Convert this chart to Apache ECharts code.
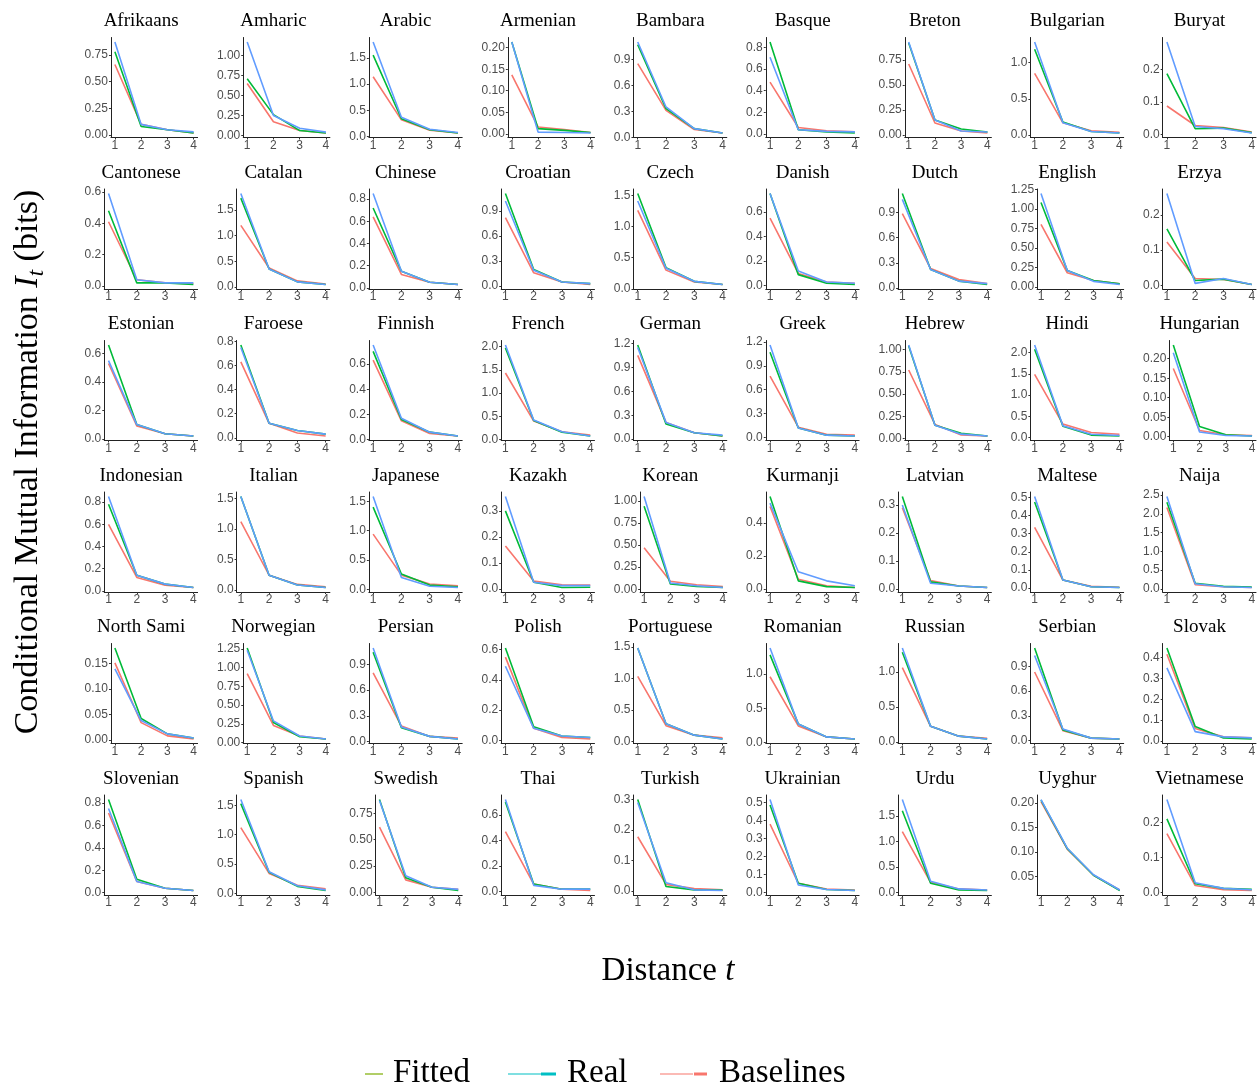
<!DOCTYPE html>
<html><head><meta charset="utf-8">
<script src="https://cdn.jsdelivr.net/npm/echarts@6/dist/echarts.min.js"></script>
<style>html,body{margin:0;padding:0;background:#fff}#c{width:1257px;height:1086px}</style>
</head><body><div id="c"></div>
<script>
const languages = ["Afrikaans","Amharic","Arabic","Armenian","Bambara","Basque","Breton","Bulgarian","Buryat",
"Cantonese","Catalan","Chinese","Croatian","Czech","Danish","Dutch","English","Erzya",
"Estonian","Faroese","Finnish","French","German","Greek","Hebrew","Hindi","Hungarian",
"Indonesian","Italian","Japanese","Kazakh","Korean","Kurmanji","Latvian","Maltese","Naija",
"North Sami","Norwegian","Persian","Polish","Portuguese","Romanian","Russian","Serbian","Slovak",
"Slovenian","Spanish","Swedish","Thai","Turkish","Ukrainian","Urdu","Uyghur","Vietnamese"];
const distances = [1,2,3,4];
const fitted = [
[0.78,0.08,0.05,0.02],[0.71,0.26,0.06,0.03],[1.55,0.34,0.13,0.07],[0.213,0.012,0.008,0.003],[1.07,0.33,0.10,0.05],[0.85,0.04,0.02,0.01],[0.92,0.15,0.06,0.03],[1.18,0.18,0.05,0.03],[0.188,0.018,0.020,0.006],
[0.48,0.02,0.02,0.01],[1.73,0.35,0.10,0.05],[0.72,0.15,0.05,0.03],[1.11,0.20,0.05,0.03],[1.53,0.34,0.12,0.07],[0.75,0.09,0.02,0.01],[1.13,0.22,0.08,0.04],[1.08,0.21,0.08,0.04],[0.16,0.014,0.018,0.003],
[0.66,0.10,0.035,0.02],[0.77,0.12,0.06,0.03],[0.70,0.16,0.06,0.03],[1.97,0.41,0.16,0.08],[1.18,0.19,0.08,0.04],[1.07,0.12,0.03,0.02],[1.04,0.15,0.06,0.03],[2.08,0.27,0.06,0.04],[0.235,0.026,0.005,0.002],
[0.78,0.14,0.06,0.03],[1.53,0.24,0.08,0.04],[1.40,0.26,0.07,0.04],[0.30,0.025,0.005,0.006],[0.94,0.06,0.03,0.02],[0.56,0.05,0.015,0.01],[0.33,0.025,0.01,0.005],[0.475,0.045,0.008,0.004],[2.31,0.15,0.07,0.05],
[0.18,0.042,0.012,0.004],[1.26,0.27,0.08,0.05],[1.04,0.16,0.06,0.03],[0.61,0.09,0.03,0.02],[1.48,0.28,0.10,0.04],[1.28,0.27,0.08,0.05],[1.28,0.22,0.08,0.04],[1.12,0.13,0.03,0.02],[0.445,0.07,0.015,0.01],
[0.83,0.12,0.04,0.02],[1.53,0.36,0.12,0.05],[0.88,0.14,0.05,0.02],[0.70,0.06,0.02,0.02],[0.30,0.015,0.004,0.003],[0.485,0.05,0.015,0.01],[1.60,0.18,0.05,0.04],[0.206,0.107,0.053,0.022],[0.21,0.025,0.012,0.009]];
const real = [
[0.87,0.10,0.05,0.03],[1.17,0.25,0.09,0.04],[1.80,0.37,0.14,0.08],[0.213,0.004,0.003,0.002],[1.10,0.35,0.10,0.05],[0.71,0.04,0.025,0.02],[0.93,0.15,0.04,0.03],[1.28,0.17,0.05,0.03],[0.285,0.025,0.018,0.005],
[0.59,0.04,0.02,0.02],[1.82,0.35,0.10,0.05],[0.85,0.15,0.05,0.03],[1.02,0.19,0.05,0.03],[1.41,0.33,0.12,0.07],[0.75,0.12,0.03,0.02],[1.06,0.22,0.08,0.05],[1.195,0.21,0.07,0.03],[0.26,0.006,0.020,0.003],
[0.55,0.10,0.035,0.02],[0.75,0.12,0.06,0.03],[0.75,0.17,0.06,0.03],[2.03,0.42,0.17,0.08],[1.15,0.21,0.08,0.05],[1.16,0.12,0.03,0.02],[1.05,0.15,0.05,0.03],[2.18,0.28,0.08,0.05],[0.215,0.012,0.003,0.002],
[0.85,0.14,0.06,0.03],[1.53,0.24,0.08,0.04],[1.58,0.20,0.05,0.03],[0.355,0.025,0.012,0.012],[1.05,0.07,0.04,0.02],[0.52,0.105,0.05,0.02],[0.30,0.02,0.01,0.005],[0.505,0.045,0.008,0.004],[2.46,0.14,0.06,0.04],
[0.139,0.038,0.012,0.004],[1.23,0.29,0.09,0.05],[1.09,0.17,0.06,0.03],[0.49,0.08,0.03,0.02],[1.48,0.28,0.10,0.04],[1.38,0.27,0.08,0.05],[1.34,0.22,0.08,0.04],[1.03,0.14,0.03,0.02],[0.35,0.045,0.02,0.015],
[0.75,0.10,0.04,0.02],[1.60,0.37,0.13,0.06],[0.87,0.16,0.05,0.03],[0.72,0.05,0.02,0.02],[0.29,0.027,0.004,0.002],[0.515,0.04,0.015,0.01],[1.82,0.22,0.07,0.05],[0.207,0.108,0.054,0.023],[0.265,0.028,0.012,0.008]];
const baselines = [
[0.66,0.10,0.05,0.02],[0.65,0.17,0.06,0.03],[1.14,0.32,0.12,0.07],[0.137,0.016,0.010,0.003],[0.85,0.31,0.09,0.05],[0.48,0.06,0.03,0.02],[0.71,0.12,0.04,0.02],[0.85,0.17,0.06,0.04],[0.088,0.028,0.022,0.008],
[0.41,0.04,0.02,0.015],[1.20,0.37,0.12,0.06],[0.64,0.12,0.05,0.03],[0.82,0.16,0.05,0.02],[1.26,0.30,0.11,0.07],[0.55,0.10,0.03,0.02],[0.89,0.23,0.10,0.05],[0.80,0.18,0.08,0.04],[0.123,0.020,0.017,0.003],
[0.53,0.09,0.035,0.02],[0.63,0.12,0.04,0.015],[0.63,0.15,0.05,0.03],[1.43,0.40,0.17,0.10],[1.05,0.21,0.08,0.04],[0.77,0.13,0.04,0.03],[0.77,0.16,0.04,0.03],[1.49,0.32,0.12,0.08],[0.175,0.016,0.005,0.003],
[0.60,0.12,0.05,0.03],[1.12,0.24,0.09,0.05],[0.94,0.24,0.09,0.06],[0.165,0.03,0.015,0.014],[0.47,0.09,0.05,0.03],[0.50,0.06,0.02,0.01],[0.29,0.03,0.01,0.005],[0.335,0.045,0.01,0.005],[2.17,0.11,0.06,0.04],
[0.151,0.034,0.008,0.002],[0.92,0.23,0.09,0.05],[0.80,0.18,0.06,0.04],[0.55,0.08,0.02,0.01],[1.03,0.25,0.10,0.06],[0.96,0.24,0.08,0.05],[1.06,0.22,0.08,0.05],[0.83,0.12,0.03,0.02],[0.415,0.06,0.02,0.015],
[0.71,0.10,0.04,0.02],[1.12,0.34,0.14,0.08],[0.62,0.12,0.05,0.03],[0.47,0.06,0.02,0.01],[0.178,0.022,0.008,0.004],[0.378,0.05,0.018,0.012],[1.19,0.20,0.07,0.05],[0.203,0.106,0.053,0.023],[0.168,0.02,0.008,0.006]];
const yTicks = [
["0.00","0.25","0.50","0.75"],["0.00","0.25","0.50","0.75","1.00"],["0.0","0.5","1.0","1.5"],["0.00","0.05","0.10","0.15","0.20"],["0.0","0.3","0.6","0.9"],["0.0","0.2","0.4","0.6","0.8"],["0.00","0.25","0.50","0.75"],["0.0","0.5","1.0"],["0.0","0.1","0.2"],
["0.0","0.2","0.4","0.6"],["0.0","0.5","1.0","1.5"],["0.0","0.2","0.4","0.6","0.8"],["0.0","0.3","0.6","0.9"],["0.0","0.5","1.0","1.5"],["0.0","0.2","0.4","0.6"],["0.0","0.3","0.6","0.9"],["0.00","0.25","0.50","0.75","1.00","1.25"],["0.0","0.1","0.2"],
["0.0","0.2","0.4","0.6"],["0.0","0.2","0.4","0.6","0.8"],["0.0","0.2","0.4","0.6"],["0.0","0.5","1.0","1.5","2.0"],["0.0","0.3","0.6","0.9","1.2"],["0.0","0.3","0.6","0.9","1.2"],["0.00","0.25","0.50","0.75","1.00"],["0.0","0.5","1.0","1.5","2.0"],["0.00","0.05","0.10","0.15","0.20"],
["0.0","0.2","0.4","0.6","0.8"],["0.0","0.5","1.0","1.5"],["0.0","0.5","1.0","1.5"],["0.0","0.1","0.2","0.3"],["0.00","0.25","0.50","0.75","1.00"],["0.0","0.2","0.4"],["0.0","0.1","0.2","0.3"],["0.0","0.1","0.2","0.3","0.4","0.5"],["0.0","0.5","1.0","1.5","2.0","2.5"],
["0.00","0.05","0.10","0.15"],["0.00","0.25","0.50","0.75","1.00","1.25"],["0.0","0.3","0.6","0.9"],["0.0","0.2","0.4","0.6"],["0.0","0.5","1.0","1.5"],["0.0","0.5","1.0"],["0.0","0.5","1.0"],["0.0","0.3","0.6","0.9"],["0.0","0.1","0.2","0.3","0.4"],
["0.0","0.2","0.4","0.6","0.8"],["0.0","0.5","1.0","1.5"],["0.00","0.25","0.50","0.75"],["0.0","0.2","0.4","0.6"],["0.0","0.1","0.2","0.3"],["0.0","0.1","0.2","0.3","0.4","0.5"],["0.0","0.5","1.0","1.5"],["0.05","0.10","0.15","0.20"],["0.0","0.1","0.2"]];

// layout
const NCOL = 9, X0 = 84.1, COL_PITCH = 132.3, PANEL_RIGHT = 113.5;
const ROW_PITCH = 151.5, TITLE_Y0 = 21.5, TOP0 = 37.5, PANEL_H = 100;
const SANS = '"Liberation Sans", Arial, sans-serif';
const SERIF = '"Liberation Serif", "Times New Roman", serif';
const LABEL_COLOR = '#4d4d4d', AXIS_COLOR = '#222';

const ctx = document.createElement('canvas').getContext('2d');
ctx.font = '12px "Liberation Sans"';

const grids = [], xAxes = [], yAxes = [], series = [], graphics = [];
const seriesDefs = [['Baselines', baselines, '#F8766D'], ['Fitted', fitted, '#00BA38'], ['Real', real, '#619CFF']];

languages.forEach((lang, i) => {
  const col = i % NCOL, row = Math.floor(i / NCOL);
  const cellLeft = X0 + col * COL_PITCH;
  const ticks = yTicks[i];
  const tickVals = ticks.map(Number);
  const dec = (ticks[0].split('.')[1] || '').length;
  const labW = Math.max(...ticks.map(t => ctx.measureText(t).width));
  const axisX = cellLeft + labW + 3.5;
  const right = cellLeft + PANEL_RIGHT;
  const top = TOP0 + row * ROW_PITCH;
  grids.push({left: axisX, top: top, width: right - axisX, height: PANEL_H, containLabel: false, outerBoundsMode: 'none'});
  const all = fitted[i].concat(real[i], baselines[i]);
  const mn = Math.min(...all), mx = Math.max(...all), pad = (mx - mn) * 0.05;
  xAxes.push({
    gridIndex: i, type: 'value', min: 0.85, max: 4.15,
    axisLine: {show: true, onZero: false, lineStyle: {color: AXIS_COLOR, width: 1}},
    axisTick: {show: true, customValues: distances, length: 2, lineStyle: {color: '#333', width: 1}},
    axisLabel: {show: true, customValues: distances, margin: 2, fontSize: 12, color: LABEL_COLOR, fontFamily: SANS},
    splitLine: {show: false}
  });
  yAxes.push({
    gridIndex: i, type: 'value', min: mn - pad, max: mx + pad,
    axisLine: {show: true, onZero: false, lineStyle: {color: AXIS_COLOR, width: 1}},
    axisTick: {show: true, customValues: tickVals, length: 2, lineStyle: {color: '#333', width: 1}},
    axisLabel: {show: true, customValues: tickVals, formatter: v => Number(v).toFixed(dec), margin: 3, fontSize: 12, color: LABEL_COLOR, fontFamily: SANS},
    splitLine: {show: false}
  });
  seriesDefs.forEach(([name, arr, color]) => {
    series.push({
      type: 'line', name: name, xAxisIndex: i, yAxisIndex: i,
      data: distances.map((d, k) => [d, arr[i][k]]),
      symbol: 'none', silent: true,
      lineStyle: {width: 1.6, color: color}, itemStyle: {color: color}
    });
  });
  graphics.push({type: 'text', x: cellLeft + 57, y: TITLE_Y0 + row * ROW_PITCH,
    style: {text: lang, fontFamily: SERIF, fontSize: 19, fill: '#000', align: 'center', verticalAlign: 'middle'}});
});

// axis titles
graphics.push({type: 'text', x: 28, y: 462, rotation: Math.PI / 2,
  style: {text: '{a|Conditional Mutual Information }{i|I}{s|t}{a| (bits)}', align: 'center', verticalAlign: 'middle',
    rich: {a: {fontFamily: SERIF, fontSize: 34, lineHeight: 40, fill: '#000'},
           i: {fontFamily: SERIF, fontSize: 34, fontStyle: 'italic', lineHeight: 40, fill: '#000'},
           s: {fontFamily: SERIF, fontSize: 23, fontStyle: 'italic', lineHeight: 23, verticalAlign: 'bottom', fill: '#000'}}}});
graphics.push({type: 'text', x: 668, y: 971,
  style: {text: '{a|Distance }{i|t}', align: 'center', verticalAlign: 'middle',
    rich: {a: {fontFamily: SERIF, fontSize: 33, fill: '#000'}, i: {fontFamily: SERIF, fontSize: 33, fontStyle: 'italic', fill: '#000'}}}});

// legend
const LY = 1073;
graphics.push({type: 'line', shape: {x1: 365, y1: LY + 1, x2: 383, y2: LY + 1}, style: {stroke: '#7CAE00', lineWidth: 1.2}});
graphics.push({type: 'text', x: 393, y: LY, style: {text: 'Fitted', fontFamily: SERIF, fontSize: 33, fill: '#000', align: 'left', verticalAlign: 'middle'}});
graphics.push({type: 'line', shape: {x1: 508, y1: LY + 1, x2: 541, y2: LY + 1}, style: {stroke: '#00BFC4', lineWidth: 1.2}});
graphics.push({type: 'line', shape: {x1: 541, y1: LY + 1, x2: 556, y2: LY + 1}, style: {stroke: '#00BFC4', lineWidth: 3}});
graphics.push({type: 'text', x: 567, y: LY, style: {text: 'Real', fontFamily: SERIF, fontSize: 33, fill: '#000', align: 'left', verticalAlign: 'middle'}});
graphics.push({type: 'line', shape: {x1: 660, y1: LY + 1, x2: 693, y2: LY + 1}, style: {stroke: '#F8766D', lineWidth: 1.2}});
graphics.push({type: 'line', shape: {x1: 694, y1: LY + 1, x2: 707, y2: LY + 1}, style: {stroke: '#F8766D', lineWidth: 3}});
graphics.push({type: 'text', x: 719, y: LY, style: {text: 'Baselines', fontFamily: SERIF, fontSize: 33, fill: '#000', align: 'left', verticalAlign: 'middle'}});

const chart = echarts.init(document.getElementById('c'), null, {renderer: 'canvas'});
chart.setOption({
  animation: false,
  backgroundColor: '#fff',
  grid: grids, xAxis: xAxes, yAxis: yAxes, series: series,
  graphic: graphics
});
</script></body></html>
